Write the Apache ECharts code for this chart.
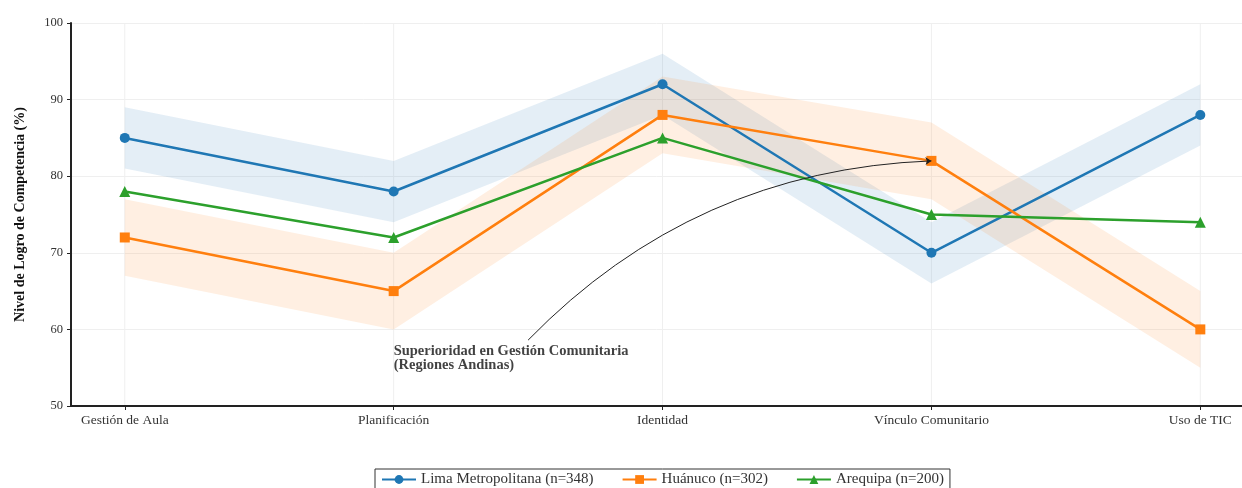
<!DOCTYPE html>
<html>
<head>
<meta charset="utf-8">
<script src="https://cdn.jsdelivr.net/npm/echarts@6/dist/echarts.min.js"></script>
<style>
  html, body { margin: 0; padding: 0; background: #fff; }
  #chart { width: 1242px; height: 488px; }
</style>
</head>
<body>
<div id="chart"></div>
<script>
// categorias del eje x
const categories = ['Gestión de Aula', 'Planificación', 'Identidad', 'Vínculo Comunitario', 'Uso de TIC']
const seriesNames = ['Lima Metropolitana (n=348)', 'Huánuco (n=302)', 'Arequipa (n=200)']
const limaValues = [85, 78, 92, 70, 88]
const huanucoValues = [72, 65, 88, 82, 60]
const arequipaValues = [78, 72, 85, 75, 74]
// margen de las bandas sombreadas
const limaBand = 4
const huanucoBand = 5
const yTicks = [50, 60, 70, 80, 90, 100]
// anotacion: desde el texto hasta el punto de Huánuco
const noteText = 'Superioridad en Gestión Comunitaria\n(Regiones Andinas)'
const noteFrom = [1.5, 58.6]
const noteTo = [3, 82]

const colors = ['#1f77b4', '#ff7f0e', '#2ca02c']
const serif = '"Liberation Serif", "DejaVu Serif", serif'

const chartInstance = echarts.init(document.getElementById('chart'))

const toPairs = arr => arr.map((v, i) => [i, v])

function bandSeries(values, delta, color){
  return {
    type: 'custom',
    silent: true,
    z: 1,
    data: [0],
    renderItem(params, api){
      const upper = values.map((v, i) => api.coord([i, v + delta]))
      const lower = values.map((v, i) => api.coord([i, v - delta])).reverse()
      return {
        type: 'polygon',
        shape: { points: upper.concat(lower) },
        style: { fill: color, opacity: 0.12 }
      }
    }
  }
}

function lineSeries(name, values, color, symbol){
  return {
    name: name,
    type: 'line',
    z: 3,
    data: toPairs(values),
    symbol: symbol,
    symbolSize: symbol === 'triangle' ? 11 : 10,
    showAllSymbol: true,
    lineStyle: { width: 2.5, color: color },
    itemStyle: { color: color },
    emphasis: { disabled: true }
  }
}

const option = {
  animation: false,
  color: colors,
  textStyle: { fontFamily: serif },
  grid: { left: 71, right: 0, top: 23, bottom: 82 },
  xAxis: {
    type: 'value',
    min: -0.2,
    max: 4.155,
    interval: 1,
    axisLine: { show: true, onZero: false, lineStyle: { color: '#222', width: 2 } },
    axisTick: { show: true, length: 4, lineStyle: { color: '#222' }, customValues: [0, 1, 2, 3, 4] },
    axisLabel: {
      customValues: [0, 1, 2, 3, 4],
      formatter: v => categories[v] || '',
      color: '#333', fontSize: 13.5, fontFamily: serif, margin: 7
    },
    splitLine: { show: false }
  },
  yAxis: {
    type: 'value',
    min: yTicks[0],
    max: yTicks[yTicks.length - 1],
    interval: 10,
    name: 'Nivel de Logro de Competencia (%)',
    nameLocation: 'middle',
    nameGap: 44,
    nameTextStyle: { fontFamily: serif, fontSize: 14, fontWeight: 'bold', color: '#111' },
    axisLine: { show: true, onZero: false, lineStyle: { color: '#222', width: 2 } },
    axisTick: { show: true, length: 4, lineStyle: { color: '#222' } },
    axisLabel: { color: '#333', fontSize: 12.5, fontFamily: serif, margin: 8 },
    splitLine: { show: true, lineStyle: { color: '#efefef', width: 1 } }
  },
  legend: {
    bottom: -4,
    left: 375,
    data: seriesNames,
    itemWidth: 34,
    itemHeight: 11,
    itemGap: 28,
    borderColor: '#333',
    borderWidth: 1,
    borderRadius: 0,
    padding: [3, 6, 5, 6],
    textStyle: { fontFamily: serif, fontSize: 15, color: '#333' }
  },
  series: [
    // lineas verticales de la rejilla en cada categoria
    {
      type: 'custom',
      silent: true,
      z: 0,
      data: [0, 1, 2, 3, 4],
      renderItem(params, api){
        const top = api.coord([api.value(0), yTicks[yTicks.length - 1]])
        const bottom = api.coord([api.value(0), yTicks[0]])
        return {
          type: 'line',
          shape: { x1: top[0], y1: top[1], x2: bottom[0], y2: bottom[1] },
          style: { stroke: '#efefef', lineWidth: 1 }
        }
      }
    },
    bandSeries(limaValues, limaBand, colors[0]),
    bandSeries(huanucoValues, huanucoBand, colors[1]),
    lineSeries(seriesNames[0], limaValues, colors[0], 'circle'),
    lineSeries(seriesNames[1], huanucoValues, colors[1], 'rect'),
    lineSeries(seriesNames[2], arequipaValues, colors[2], 'triangle'),
    {
      type: 'lines',
      coordinateSystem: 'cartesian2d',
      silent: true,
      z: 4,
      data: [{ coords: [noteFrom, noteTo] }],
      lineStyle: { color: '#222', width: 1, curveness: 0.2, opacity: 1 },
      symbol: ['none', 'arrow'],
      symbolSize: 6
    },
    {
      type: 'scatter',
      silent: true,
      z: 5,
      symbolSize: 0,
      data: [[1, 56.2]],
      label: {
        show: true,
        position: 'right',
        distance: 0,
        formatter: noteText,
        fontFamily: serif,
        fontSize: 14.5,
        fontWeight: 'bold',
        color: '#111',
        lineHeight: 14,
        align: 'left'
      }
    }
  ]
}

chartInstance.setOption(option)
</script>
</body>
</html>
